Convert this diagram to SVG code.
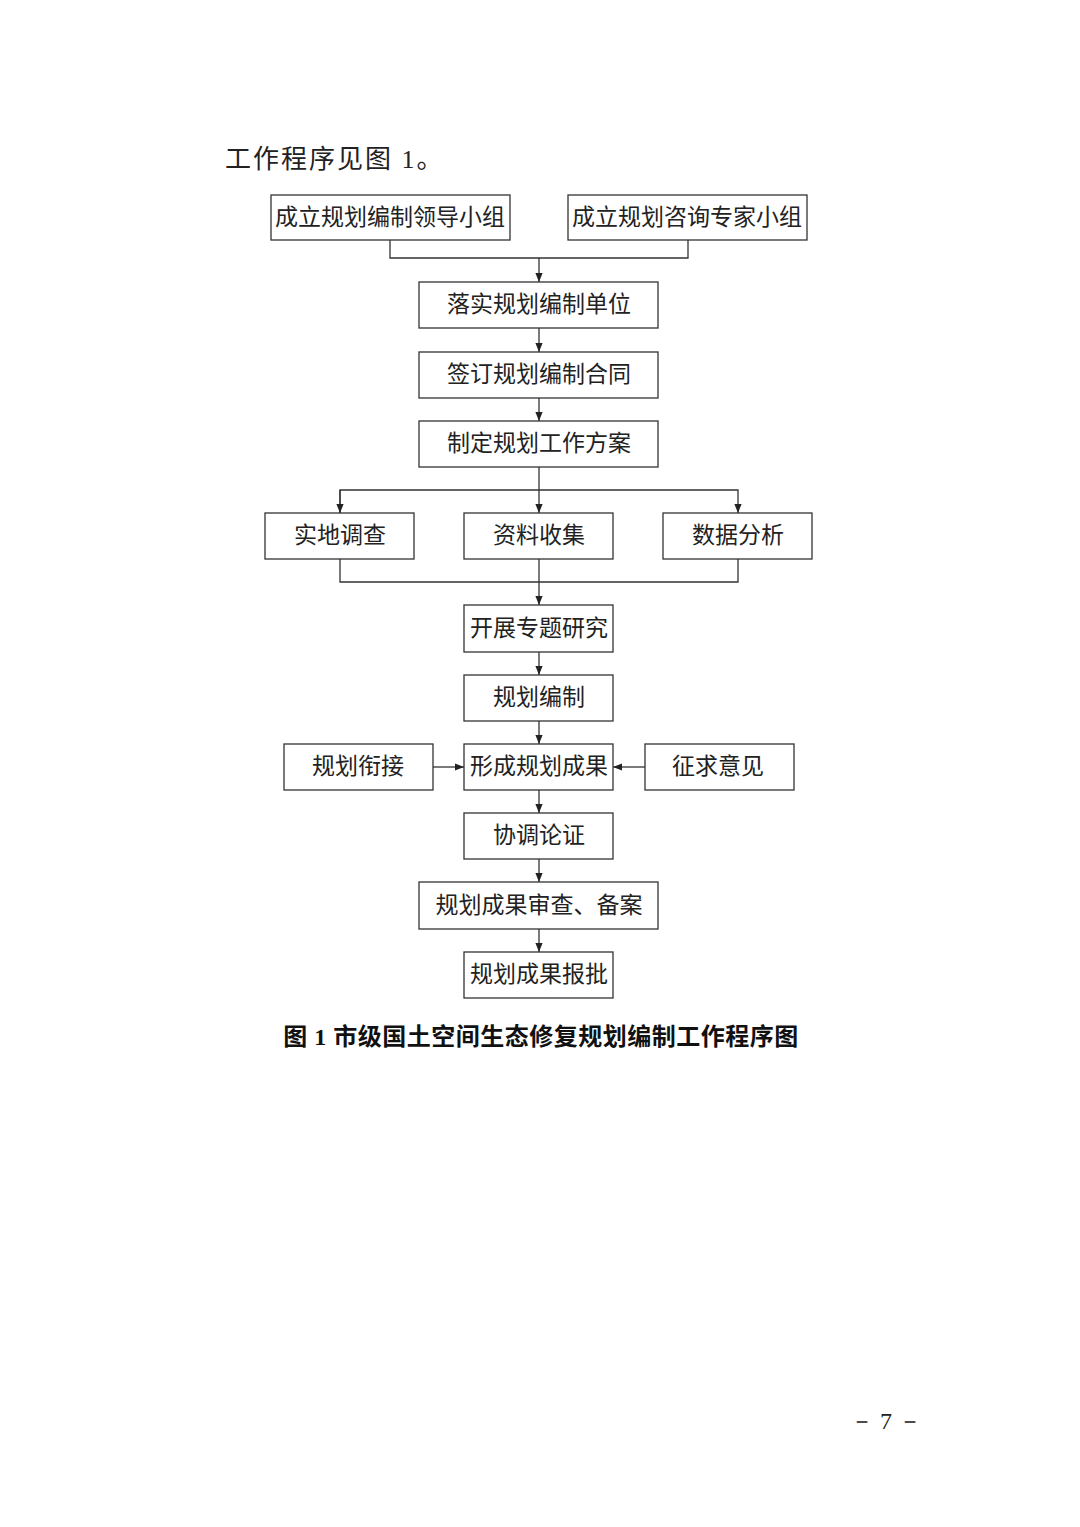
<svg xmlns="http://www.w3.org/2000/svg" width="1080" height="1527" viewBox="0 0 1080 1527">
<defs>
<style>
.b{fill:#fff;stroke:#333;stroke-width:1.3}
.t{font-family:"Liberation Serif","Noto Sans CJK SC",serif;font-size:23px;fill:#222;text-anchor:middle}
.c{fill:none;stroke:#333;stroke-width:1.3}
</style>
<marker id="a" viewBox="0 0 10 10" refX="10" refY="5" markerWidth="7" markerHeight="7" orient="auto"><path d="M0,1L10,5L0,9z" fill="#222"/></marker>
</defs>
<rect width="1080" height="1527" fill="#fff"/>
<text x="225" y="168" style="font-family:'Liberation Serif','Noto Sans CJK SC',serif;font-size:26px;fill:#222;letter-spacing:2px">工作程序见图 1。</text>
<g id="connectors">
<path class="c" d="M390,240V258H688V240"/>
<path class="c" d="M539,258V282" marker-end="url(#a)"/>
<path class="c" d="M539,328V352" marker-end="url(#a)"/>
<path class="c" d="M539,398V421" marker-end="url(#a)"/>
<path class="c" d="M539,467V513" marker-end="url(#a)"/>
<path class="c" d="M340,513V490H738V513" marker-end="url(#a)"/>
<path class="c" d="M340,490V513" marker-end="url(#a)"/>
<path class="c" d="M340,559V582H738V559"/>
<path class="c" d="M539,559V605" marker-end="url(#a)"/>
<path class="c" d="M539,652V675" marker-end="url(#a)"/>
<path class="c" d="M539,721V744" marker-end="url(#a)"/>
<path class="c" d="M433,767H464" marker-end="url(#a)"/>
<path class="c" d="M645,767H613" marker-end="url(#a)"/>
<path class="c" d="M539,790V813" marker-end="url(#a)"/>
<path class="c" d="M539,859V882" marker-end="url(#a)"/>
<path class="c" d="M539,929V952" marker-end="url(#a)"/>
</g>
<g id="n1"><rect class="b" x="271" y="195" width="239" height="45"/><text class="t" x="390" y="225">成立规划编制领导小组</text></g>
<g id="n2"><rect class="b" x="568" y="195" width="239" height="45"/><text class="t" x="687" y="225">成立规划咨询专家小组</text></g>
<g id="n3"><rect class="b" x="419" y="282" width="239" height="46"/><text class="t" x="539" y="312">落实规划编制单位</text></g>
<g id="n4"><rect class="b" x="419" y="352" width="239" height="46"/><text class="t" x="539" y="382">签订规划编制合同</text></g>
<g id="n5"><rect class="b" x="419" y="421" width="239" height="46"/><text class="t" x="539" y="451">制定规划工作方案</text></g>
<g id="n6"><rect class="b" x="265" y="513" width="149" height="46"/><text class="t" x="340" y="543">实地调查</text></g>
<g id="n7"><rect class="b" x="464" y="513" width="149" height="46"/><text class="t" x="539" y="543">资料收集</text></g>
<g id="n8"><rect class="b" x="663" y="513" width="149" height="46"/><text class="t" x="738" y="543">数据分析</text></g>
<g id="n9"><rect class="b" x="464" y="605" width="149" height="47"/><text class="t" x="539" y="636">开展专题研究</text></g>
<g id="n10"><rect class="b" x="464" y="675" width="149" height="46"/><text class="t" x="539" y="705">规划编制</text></g>
<g id="n11"><rect class="b" x="284" y="744" width="149" height="46"/><text class="t" x="358" y="774">规划衔接</text></g>
<g id="n12"><rect class="b" x="464" y="744" width="149" height="46"/><text class="t" x="539" y="774">形成规划成果</text></g>
<g id="n13"><rect class="b" x="645" y="744" width="149" height="46"/><text class="t" x="718" y="774">征求意见</text></g>
<g id="n14"><rect class="b" x="464" y="813" width="149" height="46"/><text class="t" x="539" y="843">协调论证</text></g>
<g id="n15"><rect class="b" x="419" y="882" width="239" height="47"/><text class="t" x="539" y="913">规划成果审查、备案</text></g>
<g id="n16"><rect class="b" x="464" y="952" width="149" height="46"/><text class="t" x="539" y="982">规划成果报批</text></g>
<text x="541" y="1045" style="font-family:'Liberation Serif','Noto Sans CJK SC',serif;font-size:24px;font-weight:bold;fill:#111;text-anchor:middle;letter-spacing:0.5px">图 1  市级国土空间生态修复规划编制工作程序图</text>
<text x="886" y="1429" style="font-family:'Liberation Serif',serif;font-size:24px;fill:#222;text-anchor:middle">－ 7 －</text>
</svg>
